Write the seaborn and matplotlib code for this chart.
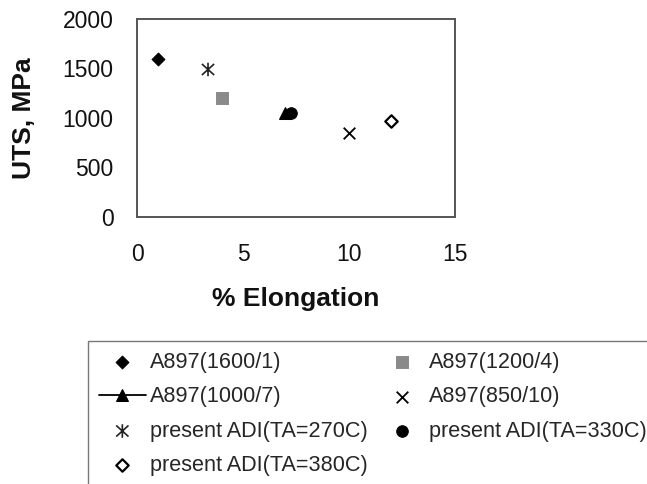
import matplotlib
matplotlib.use("Agg")
import matplotlib.pyplot as plt
from matplotlib.path import Path
import seaborn as sns
import pandas as pd

# ---- data ----
series_labels = ["A897(1600/1)", "A897(1200/4)", "A897(1000/7)", "A897(850/10)",
                 "present ADI(TA=270C)", "present ADI(TA=330C)", "present ADI(TA=380C)"]
elongation = [1.0, 4.0, 7.0, 10.0, 3.35, 7.25, 12.0]
uts = [1600, 1200, 1050, 850, 1490, 1050, 970]
x_ticks = [0, 5, 10, 15]
y_ticks = [0, 500, 1000, 1500, 2000]

sns.set_style("white")
plt.rcParams["font.family"] = ["Liberation Sans", "DejaVu Sans"]

df = pd.DataFrame({"series": series_labels, "elong": elongation, "uts": uts})

# Excel-style asterisk marker: an "x" with a vertical bar through it
asterisk = Path([(-1, -0.9), (1, 0.9), (-1, 0.9), (1, -0.9), (0, -1.1), (0, 1.1)],
                [Path.MOVETO, Path.LINETO, Path.MOVETO, Path.LINETO, Path.MOVETO, Path.LINETO])

fig = plt.figure(figsize=(6.47, 4.84), dpi=100)
ax = fig.add_axes([137/647, 1-217/484, (455-137)/647, (217-19)/484])

styles = {
    "A897(1600/1)": dict(marker="D", s=45, color="black", edgecolor="black"),
    "A897(1200/4)": dict(marker="s", s=75, color="#8a8a8a", edgecolor="#8a8a8a"),
    "A897(850/10)": dict(marker="x", s=70, color="black", linewidth=1.3),
    "present ADI(TA=270C)": dict(marker=asterisk, s=95, facecolor="none",
                                 edgecolor="#222222", linewidth=1.2),
    "present ADI(TA=330C)": dict(marker="o", s=70, color="black", edgecolor="black"),
    "present ADI(TA=380C)": dict(marker="D", s=40, color="white", edgecolor="black", linewidth=1.6),
}

for lab in series_labels:
    sub = df[df["series"] == lab]
    if lab == "A897(1000/7)":
        sns.lineplot(data=sub, x="elong", y="uts", ax=ax, marker="^", markersize=9,
                     color="black", linewidth=1.3, label=lab, markeredgecolor="black")
    else:
        sns.scatterplot(data=sub, x="elong", y="uts", ax=ax, label=lab, **styles[lab])

ax.set_xlim(0, 15)
ax.set_ylim(0, 2000)
ax.set_xticks(x_ticks)
ax.set_yticks(y_ticks)
ax.tick_params(axis="both", direction="out", length=5, width=1.2, color="#555555",
               labelsize=16.5, labelcolor="#111111")
ax.tick_params(axis="x", pad=14)
ax.tick_params(axis="y", pad=12)
for sp in ax.spines.values():
    sp.set_color("#555555")
    sp.set_linewidth(1.4)

ax.set_xlabel("% Elongation", fontsize=19, fontweight="bold", labelpad=15, color="#111111")
ax.set_ylabel("UTS, MPa", fontsize=19, fontweight="bold", labelpad=19, color="#111111")

handles, labels = ax.get_legend_handles_labels()
hmap = dict(zip(labels, handles))
ax.get_legend().remove()
order = ["A897(1600/1)", "A897(1000/7)", "present ADI(TA=270C)", "present ADI(TA=380C)",
         "A897(1200/4)", "A897(850/10)", "present ADI(TA=330C)"]
leg = fig.legend([hmap[o] for o in order], order, ncol=2, loc="upper left",
                 bbox_to_anchor=(88/647, 1-341/484), bbox_transform=fig.transFigure,
                 fontsize=15.6, frameon=True, fancybox=False, borderaxespad=0,
                 borderpad=0.5, handlelength=2.17, handletextpad=0.18,
                 columnspacing=0.5, labelspacing=0.62)
leg.get_frame().set_edgecolor("#555555")
leg.get_frame().set_linewidth(1.0)

fig.savefig("out.png", dpi=100)
